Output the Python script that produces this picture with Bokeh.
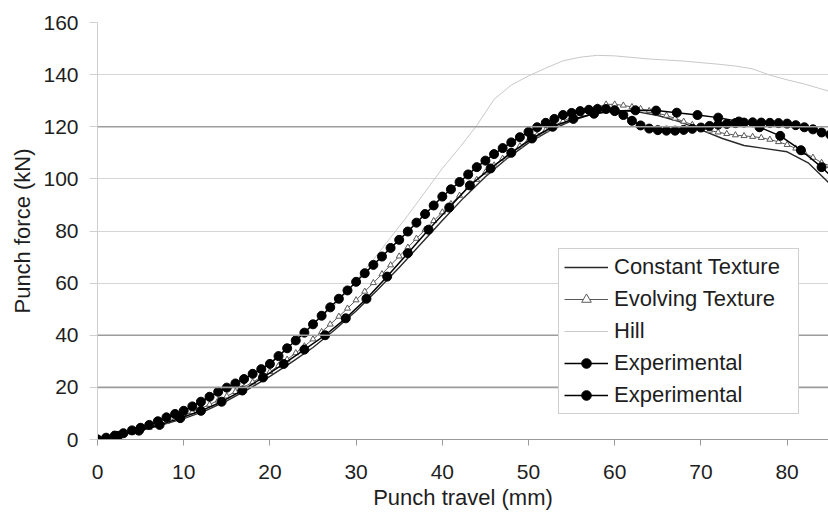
from bokeh.plotting import figure
from bokeh.models import Range1d, FixedTicker, Span, Legend, LegendItem
from bokeh.embed import file_html
from bokeh.resources import INLINE

# ---------------- data ----------------
x_tick_values = [0, 10, 20, 30, 40, 50, 60, 70, 80]
y_tick_values = [0, 20, 40, 60, 80, 100, 120, 140, 160]

const_x = [0, 2.5, 5, 7.5, 10, 12.5, 15, 17.5, 20, 22.5, 25, 27.5, 30, 32.5, 35, 37.5,
           40, 42.5, 45, 47.5, 50, 52.5, 55, 57.5, 60, 62.5, 65, 67.5, 70, 72.5, 75,
           77.5, 80, 82.5, 85]
const_y = [0, 1.5, 3.4, 5.6, 8, 11, 14.8, 19.3, 24.2, 29.6, 35.3, 42, 49.3, 57.5, 66, 75,
           84, 92.8, 100.8, 107.8, 113.8, 118.6, 122.3, 125, 126.2, 125.8, 124.3, 122,
           118.8, 115.5, 112.8, 111.6, 110.4, 106, 98]

evol_x = list(range(0, 86))
evol_y = [0, 0.5, 1.1, 1.8, 2.7, 3.6, 4.6, 5.7, 6.8, 8, 9.2, 10.5, 11.9, 13.4, 15, 16.6,
          18.3, 20.1, 22, 24, 26, 28.3, 30.7, 33.2, 35.8, 38.5, 41.3, 44.2, 47.2, 50.3,
          53.5, 56.8, 60.1, 63.5, 66.9, 70.3, 73.7, 77.1, 80.5, 83.9, 87.2, 90.4, 93.6,
          96.7, 99.7, 102.5, 105.2, 107.8, 110.3, 112.6, 114.8, 116.8, 118.7, 120.5,
          122.1, 123.6, 125, 126.3, 127.5, 128.6, 128.6, 128.2, 127.6, 126.9, 126.1,
          125.2, 124.3, 123.2, 122, 120.8, 119.6, 118.6, 117.9, 117.3, 116.8, 116.5,
          116.2, 115.8, 115.1, 114.2, 113.1, 111.7, 110, 108.2, 106.2, 105]

hill_x = [0, 5, 10, 15, 20, 25, 28, 30, 32, 34, 36, 38, 40, 42, 44, 46, 48, 50, 52, 54,
          56, 58, 60, 62, 64, 66, 68, 70, 72, 74, 76, 78, 80, 82, 85]
hill_y = [0, 4.5, 10.8, 19.6, 29.5, 44, 53, 61, 69, 77.5, 86, 95, 104, 112, 120.5, 130.5,
          136, 139.5, 142.5, 145.3, 146.7, 147.4, 147.2, 146.6, 146, 145.6, 145.2, 144.6,
          144, 143.3, 142.2, 139.8, 138, 136.4, 133.5]

expA_x = list(range(0, 86))
expA_y = [0, 0.7, 1.5, 2.4, 3.5, 4.5, 5.6, 7, 8.5, 9.8, 11, 12.7, 14.5, 16.4, 18.3, 19.9,
          21.5, 23.2, 25.2, 27, 29, 32, 35, 38, 41, 44.2, 47.5, 50.7, 54, 57.2, 60.5,
          63.8, 67, 70.2, 73.5, 76.6, 79.8, 83.2, 86.5, 89.8, 93.2, 96, 98.8, 101.7,
          104.5, 107, 109.5, 111.8, 114, 116, 118, 119.8, 121.5, 123, 124.5, 125.3, 126,
          126.5, 126.8, 126.8, 126.3, 124.5, 122.3, 120.5, 119.3, 118.7, 118.5, 118.5,
          118.8, 119.2, 119.7, 120.3, 120.8, 121.1, 121.4, 121.6, 121.7, 121.6, 121.5,
          121.4, 121.2, 120.6, 119.8, 119, 117.8, 117]

expB_x = [0, 2.4, 4.8, 7.2, 9.6, 12, 14.4, 16.8, 19.2, 21.6, 24, 26.4, 28.8, 31.2, 33.6,
          36, 38.4, 40.8, 43.2, 45.6, 48, 50.4, 52.8, 55.2, 57.6, 60, 62.4, 64.8, 67.2,
          69.6, 72, 74.4, 76.8, 79.2, 81.6, 84, 86.4]
expB_y = [0, 1.4, 3.4, 5.6, 8.2, 11, 14.5, 18.8, 23.8, 29, 34.5, 40, 46.5, 54, 62.5, 71.5,
          80.5, 89, 97.5, 104, 110, 115.5, 120, 123, 125, 126, 126.3, 126.2, 125.4, 124.5,
          123.5, 122, 119.8, 116.5, 111, 104.5, 97]

FONT = "Liberation Sans"
TXT = "#1e1e1e"

p = figure(width=828, height=513, output_backend="svg", toolbar_location=None,
           x_range=Range1d(0, 84.8), y_range=Range1d(0, 160),
           min_border_left=97, min_border_right=0, min_border_top=22,
           min_border_bottom=74)
p.outline_line_color = None
p.background_fill_color = "white"
p.border_fill_color = "white"

# grid
p.xgrid.grid_line_color = None
p.ygrid.grid_line_color = "#d6d6d6"
p.ygrid.grid_line_width = 1
p.ygrid.ticker = FixedTicker(ticks=y_tick_values)
for yv in [20, 40, 120]:
    p.add_layout(Span(location=yv, dimension="width", line_color="#9c9c9c", line_width=1.6))

# axes
p.xaxis.ticker = FixedTicker(ticks=x_tick_values)
p.yaxis.ticker = FixedTicker(ticks=y_tick_values)
p.xaxis.axis_label = "Punch travel (mm)"
p.yaxis.axis_label = "Punch force (kN)"
for ax in (p.xaxis, p.yaxis):
    ax.axis_label_text_font = FONT
    ax.axis_label_text_font_size = "22px"
    ax.axis_label_text_font_style = "normal"
    ax.axis_label_text_color = TXT
    ax.major_label_text_font = FONT
    ax.major_label_text_font_size = "21px"
    ax.major_label_text_color = TXT
    ax.minor_tick_line_color = None
    ax.major_tick_in = 0
p.xaxis.axis_line_color = "#9a9a9a"
p.xaxis.major_tick_line_color = "#9a9a9a"
p.xaxis.major_tick_out = 6
p.xaxis.major_label_standoff = 19
p.xaxis.axis_label_standoff = 3
p.yaxis.axis_line_color = "#d0d0d0"
p.yaxis.major_tick_line_color = "#d0d0d0"
p.yaxis.major_tick_out = 8
p.yaxis.major_label_standoff = 11
p.yaxis.axis_label_standoff = 5

# series
r_const = p.line(const_x, const_y, line_color="#2a2a2a", line_width=1.4)
r_evol_l = p.line(evol_x, evol_y, line_color="#5a5a5a", line_width=1)
r_evol_m = p.scatter(evol_x, evol_y, marker="triangle", size=6, fill_color="white",
                     line_color="#5a5a5a", line_width=1)
r_hill = p.line(hill_x, hill_y, line_color="#c8c8c8", line_width=1)
r_a_l = p.line(expA_x, expA_y, line_color="black", line_width=1.5)
r_a_m = p.scatter(expA_x, expA_y, marker="circle", size=9, fill_color="black",
                  line_color="black")
r_b_l = p.line(expB_x, expB_y, line_color="black", line_width=1.5)
r_b_m = p.scatter(expB_x, expB_y, marker="circle", size=9, fill_color="black",
                  line_color="black")

legend = Legend(items=[
    LegendItem(label="Constant Texture", renderers=[r_const]),
    LegendItem(label="Evolving Texture", renderers=[r_evol_l, r_evol_m]),
    LegendItem(label="Hill", renderers=[r_hill]),
    LegendItem(label="Experimental", renderers=[r_a_l, r_a_m]),
    LegendItem(label="Experimental", renderers=[r_b_l, r_b_m]),
], location=(461, 25))
legend.label_text_font = FONT
legend.label_text_font_size = "22px"
legend.label_text_color = TXT
legend.glyph_width = 44
legend.glyph_height = 24
legend.label_height = 24
legend.label_width = 179
legend.label_standoff = 6
legend.spacing = 6
legend.padding = 5
legend.margin = 0
legend.border_line_color = "#a0a0a0"
legend.border_line_width = 1
legend.background_fill_color = "white"
legend.background_fill_alpha = 1
p.add_layout(legend)

open("out.html", "w").write(file_html(p, INLINE))
